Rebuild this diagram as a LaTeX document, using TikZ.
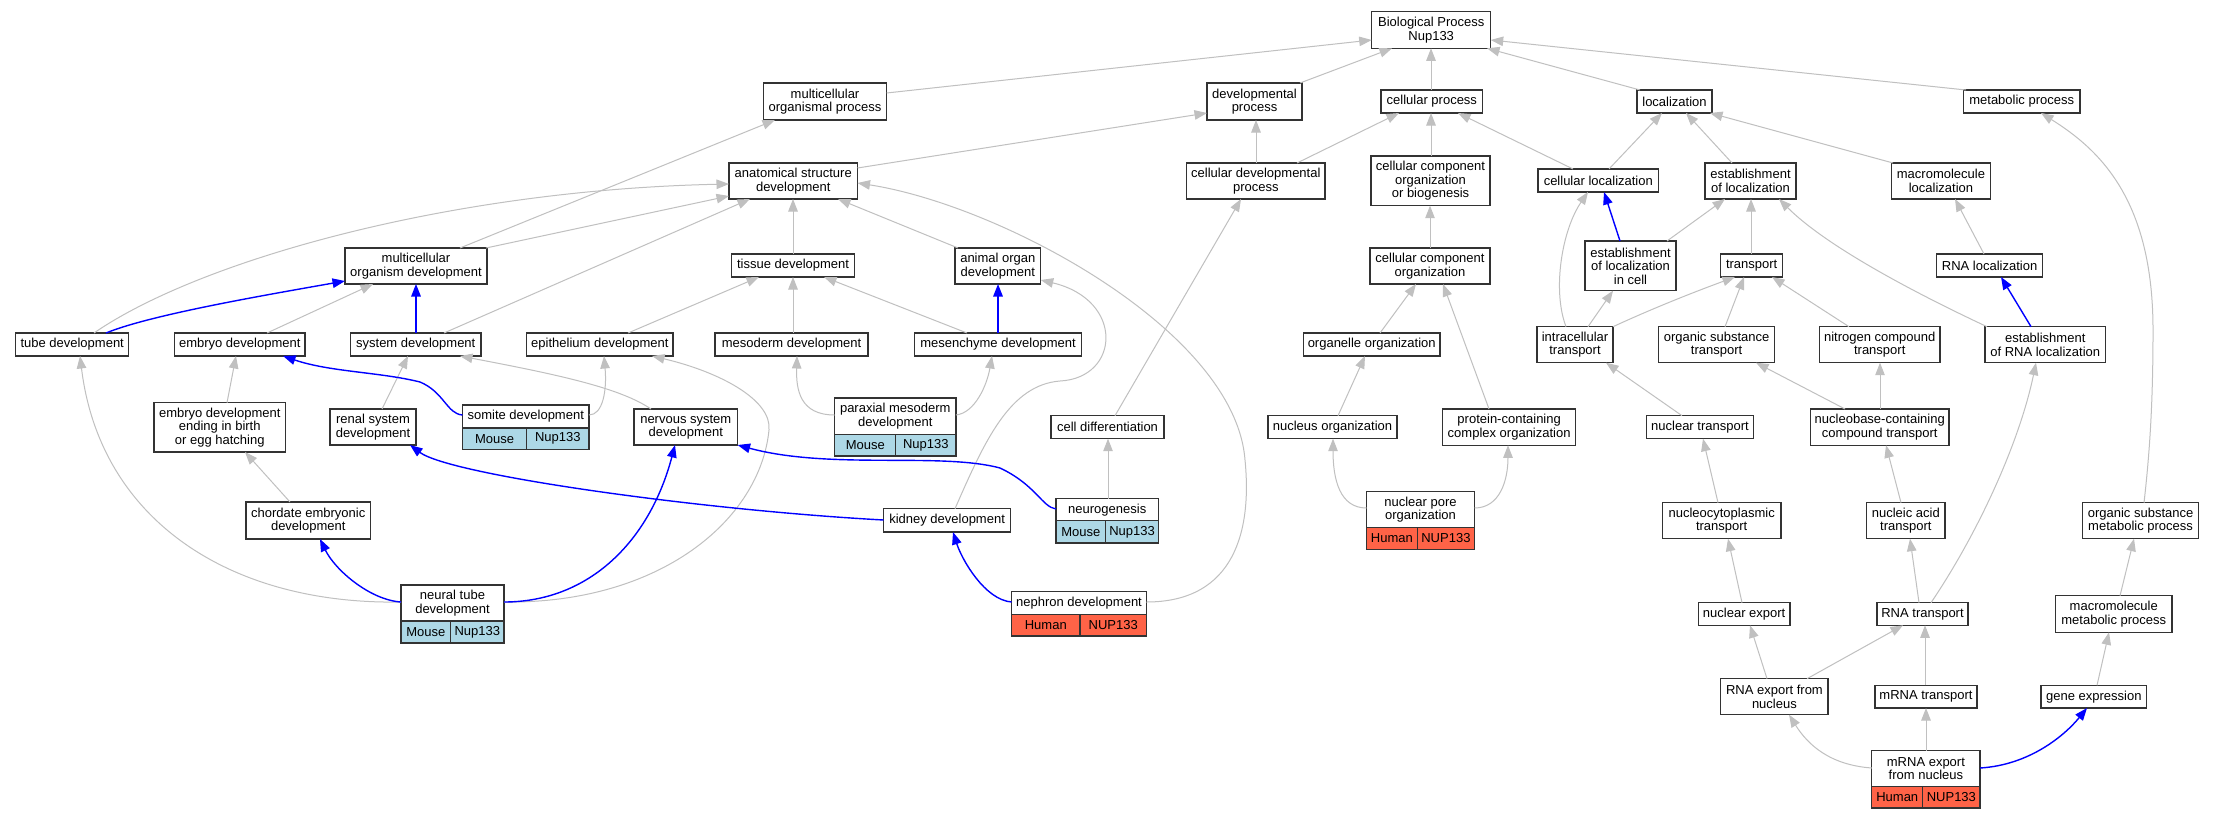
\documentclass[tikz,border=0pt]{standalone}
\usepackage{fontspec}
\setmainfont{Liberation Sans}
\usetikzlibrary{arrows.meta}
\definecolor{gcol}{RGB}{192,192,192}
\definecolor{bcol}{RGB}{51,51,51}
\definecolor{lb}{RGB}{173,216,230}
\definecolor{tom}{RGB}{255,99,71}
\definecolor{eb}{RGB}{0,0,255}
\newcommand\nf{\fontsize{13}{13.5}\selectfont}
\newcommand\bx[6]{\node[box,minimum width={(#4)-(#2)},minimum height={(#5)-(#3)}] (#1) at ({((#2)+(#4))/2},{((#3)+(#5))/2}) {#6};}
\newcommand\srow[9]{%
\node[box,fill=#7,minimum width={(#3)-(#2)},minimum height={(#6)-(#5)}] (#1L) at ({((#2)+(#3))/2},{((#5)+(#6))/2}) {#8};%
\node[box,fill=#7,minimum width={(#4)-(#3)},minimum height={(#6)-(#5)}] (#1R) at ({((#3)+(#4))/2},{((#5)+(#6))/2}) {#9};}
\begin{document}
\begin{tikzpicture}[x=1pt,y=-1pt,
  box/.style={draw=bcol,fill=white,line width=1.3pt,inner sep=0pt,outer sep=0pt,align=center,font=\nf},
  gedge/.style={draw=gcol,line width=1pt,-{Triangle[length=12.5pt,width=9.5pt]}},
  bedge/.style={draw=eb,line width=1.4pt,-{Triangle[length=12.5pt,width=9.5pt]}}]
\useasboundingbox (0,0) rectangle (2213,819);
\fill[white] (0,0) rectangle (2213,819);
% nodes
\bx{bio}{1371.7}{11.7}{1490.7}{48.3}{Biological Process\\Nup133}
\bx{mop}{763.4}{83}{886.6}{120}{multicellular\\organismal process}
\bx{devp}{1207}{83}{1302}{120}{developmental\\process}
\bx{cellp}{1381}{90}{1482.7}{113}{cellular process}
\bx{loc}{1637}{90}{1712}{113}{localization}
\bx{metab}{1963.4}{90}{2080}{113}{metabolic process}
\bx{asd}{729}{163}{857.5}{199}{anatomical structure\\development}
\bx{cdp}{1186.6}{163}{1325}{199}{cellular developmental\\process}
\bx{ccob}{1371}{156}{1490}{205.7}{cellular component\\organization\\or biogenesis}
\bx{cloc}{1538}{169}{1658.6}{192}{cellular localization}
\bx{eol}{1705}{163}{1796}{199}{establishment\\of localization}
\bx{mloc}{1891.4}{163}{1990.5}{199}{macromolecule\\localization}
\bx{mod}{345}{248}{487}{284}{multicellular\\organism development}
\bx{tissue}{731.5}{254}{854.6}{277}{tissue development}
\bx{aod}{955}{248}{1040.7}{284}{animal organ\\development}
\bx{cco}{1370}{248}{1490}{284}{cellular component\\organization}
\bx{eolc}{1585}{241}{1676}{290.7}{establishment\\of localization\\in cell}
\bx{transport}{1720.8}{254}{1782.5}{277}{transport}
\bx{rnaloc}{1936.7}{254}{2042.4}{277}{RNA localization}
\bx{tube}{15.6}{333}{128.8}{356}{tube development}
\bx{embryo}{174.6}{333}{304.9}{356}{embryo development}
\bx{sysdev}{350.6}{333}{480.9}{356}{system development}
\bx{epith}{526.7}{333}{673}{356}{epithelium development}
\bx{meso}{715}{333}{868}{356}{mesoderm development}
\bx{mesench}{914.7}{333}{1081.4}{356}{mesenchyme development}
\bx{organelle}{1303.4}{333}{1440}{356}{organelle organization}
\bx{intra}{1537}{326.7}{1613}{362.7}{intracellular\\transport}
\bx{ost}{1658.6}{326.7}{1774.5}{362.7}{organic substance\\transport}
\bx{nct}{1819.4}{326.7}{1940}{362.7}{nitrogen compound\\transport}
\bx{eorl}{1985}{326.7}{2105.5}{362.7}{establishment\\of RNA localization}
\bx{edeb}{154}{402.7}{285.5}{452}{embryo development\\ending in birth\\or egg hatching}
\bx{renal}{330}{409}{416}{445}{renal system\\development}
\bx{somite}{462.5}{405}{589}{428}{somite development}
\srow{somite}{462.5}{526.6}{589}{428}{449.3}{lb}{Mouse}{Nup133}
\bx{nervous}{634}{409}{737.6}{445}{nervous system\\development}
\bx{paraxial}{834.7}{398}{955.9}{434.3}{paraxial mesoderm\\development}
\srow{paraxial}{834.7}{895.8}{955.9}{434.3}{456}{lb}{Mouse}{Nup133}
\bx{celldiff}{1051}{415.7}{1164}{438.7}{cell differentiation}
\bx{nucorg}{1268}{415.7}{1397}{438.7}{nucleus organization}
\bx{pcco}{1442.5}{409}{1575.8}{445.3}{protein-containing\\complex organization}
\bx{nuctr}{1646.4}{415.7}{1753.5}{438.7}{nuclear transport}
\bx{nbcct}{1810.5}{409}{1949}{445.3}{nucleobase-containing\\compound transport}
\bx{chordate}{246}{502}{370.5}{539}{chordate embryonic\\development}
\bx{neurog}{1056}{498.7}{1158.5}{520.7}{neurogenesis}
\srow{neurog}{1056}{1105.6}{1158.5}{520.7}{543}{lb}{Mouse}{Nup133}
\bx{kidney}{883.6}{508.7}{1010.6}{532}{kidney development}
\bx{nucpore}{1366.5}{491.7}{1474.5}{527.3}{nuclear pore\\organization}
\srow{nucpore}{1366.5}{1417.3}{1474.5}{527.3}{549.3}{tom}{Human}{NUP133}
\bx{nucyto}{1662.3}{502.7}{1781}{538.7}{nucleocytoplasmic\\transport}
\bx{nat}{1866.6}{502.7}{1945}{538.7}{nucleic acid\\transport}
\bx{osmp}{2082.6}{502.7}{2198.5}{538.7}{organic substance\\metabolic process}
\bx{neural}{401}{585}{504}{621}{neural tube\\development}
\srow{neural}{401}{450.7}{504}{621}{643}{lb}{Mouse}{Nup133}
\bx{nephron}{1011.6}{591.7}{1146.4}{614.3}{nephron development}
\srow{nephron}{1011.6}{1080}{1146.4}{614.3}{636}{tom}{Human}{NUP133}
\bx{nucexp}{1698.3}{602.7}{1790}{625.3}{nuclear export}
\bx{rnatr}{1877}{602.7}{1968}{625.3}{RNA transport}
\bx{mmp}{2055.5}{595.7}{2172}{632.3}{macromolecule\\metabolic process}
\bx{rnaexp}{1720.8}{678.7}{1828}{714.7}{RNA export from\\nucleus}
\bx{mrnatr}{1875}{685.3}{1977}{708}{mRNA transport}
\bx{geneexp}{2041}{685.3}{2146.7}{708}{gene expression}
\bx{mrnaexp}{1871.8}{750.7}{1980}{786.7}{mRNA export\\from nucleus}
\srow{mrnaexp}{1871.8}{1922.7}{1980}{786.7}{808}{tom}{Human}{NUP133}
% gray edges
\draw[gedge] (mop.east |- 0,93) -- (bio.west |- 0,40);
\draw[gedge] (devp.north -| 1300,0) -- (bio.south -| 1392,0);
\draw[gedge] (cellp.north -| 1431,0) -- (bio.south -| 1431,0);
\draw[gedge] (loc.north -| 1640,0) -- (bio.south -| 1487,0);
\draw[gedge] (metab.north -| 1966,0) -- (bio.east |- 0,40);
\draw[gedge] (mod.north -| 460,0) -- (mop.south -| 775,0);
\draw[gedge] (asd.east |- 0,168) -- (devp.west |- 0,113);
\draw[gedge] (cdp.north -| 1256,0) -- (devp.south -| 1256,0);
\draw[gedge] (cdp.north -| 1297,0) -- (cellp.south -| 1399,0);
\draw[gedge] (ccob.north -| 1431,0) -- (cellp.south -| 1431,0);
\draw[gedge] (cloc.north -| 1573,0) -- (cellp.south -| 1458,0);
\draw[gedge] (cloc.north -| 1609,0) -- (loc.south -| 1662,0);
\draw[gedge] (eol.north -| 1732,0) -- (loc.south -| 1686,0);
\draw[gedge] (mloc.north -| 1893,0) -- (loc.south -| 1710,0);
\draw[gedge] (tube.north -| 94,0) .. controls (200,260) and (450,190) .. (asd.west |- 0,184);
\draw[gedge] (mod.north -| 486,0) -- (asd.west |- 0,196);
\draw[gedge] (sysdev.north -| 444,0) -- (asd.south -| 750,0);
\draw[gedge] (tissue.north -| 793,0) -- (asd.south -| 793,0);
\draw[gedge] (aod.north -| 958,0) -- (asd.south -| 838,0);
\draw[gedge] (nephron.east |- 0,602) .. controls (1235,602) and (1252,530) .. (1245,460) .. controls (1235,330) and (1000,205) .. (asd.east |- 0,183);
\draw[gedge] (celldiff.north -| 1115,0) -- (cdp.south -| 1241,0);
\draw[gedge] (cco.north -| 1430,0) -- (ccob.south -| 1430,0);
\draw[gedge] (organelle.north -| 1380,0) -- (cco.south -| 1416,0);
\draw[gedge] (pcco.north -| 1489,0) -- (cco.south -| 1443,0);
\draw[gedge] (eolc.north -| 1667,0) -- (eol.south -| 1725,0);
\draw[gedge] (intra.north -| 1566,0) .. controls (1552,290) and (1562,230) .. (cloc.south -| 1588,0);
\draw[gedge] (intra.north -| 1588,0) -- (eolc.south -| 1613,0);
\draw[gedge] (transport.north -| 1751,0) -- (eol.south -| 1751,0);
\draw[gedge] (eorl.north -| 1987,0) .. controls (1930,300) and (1830,250) .. (eol.south -| 1779,0);
\draw[gedge] (rnaloc.north -| 1984,0) -- (mloc.south -| 1955,0);
\draw[gedge] (osmp.north -| 2144,0) .. controls (2150,450) and (2153,400) .. (2153,330) .. controls (2153,200) and (2100,150) .. (metab.south -| 2041,0);
\draw[gedge] (embryo.north -| 267,0) -- (mod.south -| 373,0);
\draw[gedge] (epith.north -| 628,0) -- (tissue.south -| 759,0);
\draw[gedge] (meso.north -| 793,0) -- (tissue.south -| 793,0);
\draw[gedge] (mesench.north -| 967,0) -- (tissue.south -| 824,0);
\draw[gedge] (kidney.north -| 955,0) .. controls (985,440) and (1010,385) .. (1060,381) .. controls (1120,378) and (1125,300) .. (aod.east |- 0,280);
\draw[gedge] (intra.north east) .. controls (1660,305) and (1705,288) .. (transport.south -| 1735,0);
\draw[gedge] (ost.north -| 1725,0) -- (transport.south -| 1744,0);
\draw[gedge] (nct.north -| 1849,0) -- (transport.south -| 1772,0);
\draw[gedge] (neural.west |- 0,602) .. controls (230,605) and (100,520) .. (tube.south -| 80,0);
\draw[gedge] (edeb.north -| 227,0) -- (embryo.south -| 236,0);
\draw[gedge] (renal.north -| 382,0) -- (sysdev.south -| 408,0);
\draw[gedge] (nervous.north -| 651,0) .. controls (620,388) and (560,375) .. (sysdev.south -| 460,0);
\draw[gedge] (somite.east |- 0,415) .. controls (603,415) and (607,390) .. (epith.south -| 604,0);
\draw[gedge] (neural.east |- 0,602) .. controls (660,604) and (760,520) .. (769,430) .. controls (772,400) and (720,372) .. (epith.south -| 652,0);
\draw[gedge] (paraxial.west |- 0,415) .. controls (800,415) and (796,390) .. (meso.south -| 797,0);
\draw[gedge] (paraxial.east |- 0,415) .. controls (975,413) and (987,385) .. (mesench.south -| 992,0);
\draw[gedge] (nucorg.north -| 1338,0) -- (organelle.south -| 1365,0);
\draw[gedge] (nucpore.west |- 0,508) .. controls (1340,508) and (1333,480) .. (nucorg.south -| 1333,0);
\draw[gedge] (nucpore.east |- 0,508) .. controls (1500,508) and (1508,480) .. (pcco.south -| 1508,0);
\draw[gedge] (nuctr.north -| 1682,0) -- (intra.south -| 1606,0);
\draw[gedge] (nbcct.north -| 1845,0) -- (ost.south -| 1756,0);
\draw[gedge] (nbcct.north -| 1880,0) -- (nct.south -| 1880,0);
\draw[gedge] (neurog.north -| 1108,0) -- (celldiff.south -| 1108,0);
\draw[gedge] (nucyto.north -| 1718,0) -- (nuctr.south -| 1703,0);
\draw[gedge] (nat.north -| 1901,0) -- (nbcct.south -| 1886,0);
\draw[gedge] (nucexp.north -| 1742,0) -- (nucyto.south -| 1728,0);
\draw[gedge] (rnatr.north -| 1919,0) -- (nat.south -| 1910,0);
\draw[gedge] (rnatr.north -| 1931,0) .. controls (1980,530) and (2020,440) .. (eorl.south -| 2036,0);
\draw[gedge] (mmp.north -| 2120,0) -- (osmp.south -| 2134,0);
\draw[gedge] (rnaexp.north -| 1767,0) -- (nucexp.south -| 1750,0);
\draw[gedge] (rnaexp.north -| 1807,0) -- (rnatr.south -| 1903,0);
\draw[gedge] (mrnatr.north -| 1925,0) -- (rnatr.south -| 1925,0);
\draw[gedge] (geneexp.north -| 2097,0) -- (mmp.south -| 2109,0);
\draw[gedge] (mrnaexp.west |- 0,768) .. controls (1830,765) and (1808,745) .. (rnaexp.south -| 1789,0);
\draw[gedge] (mrnaexp.north -| 1926,0) -- (mrnatr.south -| 1926,0);
\draw[gedge] (chordate.north -| 290,0) -- (edeb.south -| 245,0);
% blue edges
\draw[bedge] (eolc.north -| 1620,0) -- (cloc.south -| 1604,0);
\draw[bedge] (eorl.north -| 2031,0) -- (rnaloc.south -| 2001,0);
\draw[bedge] (tube.north -| 106,0) .. controls (150,315) and (260,296) .. (mod.west |- 0,281);
\draw[bedge] (sysdev.north -| 416,0) -- (mod.south -| 416,0);
\draw[bedge] (mesench.north -| 998,0) -- (aod.south -| 998,0);
\draw[bedge] (somite.west |- 0,415) .. controls (447,414) and (444,392) .. (420,382) .. controls (380,372) and (330,372) .. (embryo.south -| 283,0);
\draw[bedge] (neural.west |- 0,602) .. controls (370,600) and (335,570) .. (chordate.south -| 320,0);
\draw[bedge] (neural.east |- 0,602) .. controls (590,602) and (650,540) .. (nervous.south -| 675,0);
\draw[bedge] (kidney.west |- 0,520) .. controls (700,510) and (450,475) .. (renal.south -| 410,0);
\draw[bedge] (neurog.west |- 0,509) .. controls (1042,507) and (1036,485) .. (1000,468) .. controls (940,452) and (830,470) .. (nervous.south east);
\draw[bedge] (nephron.west |- 0,602) .. controls (985,600) and (962,560) .. (kidney.south -| 953,0);
\draw[bedge] (mrnaexp.east |- 0,768) .. controls (2030,765) and (2065,735) .. (geneexp.south -| 2087,0);
\end{tikzpicture}
\end{document}
